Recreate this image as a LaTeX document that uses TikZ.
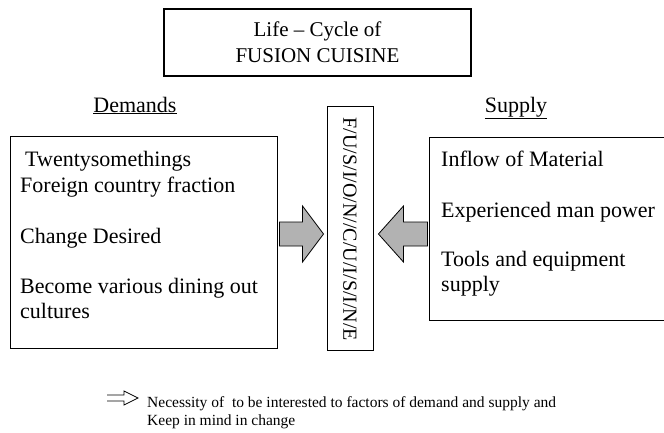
\documentclass[tikz,border=0pt]{standalone}
\usepackage{fontspec}
\setmainfont{Liberation Serif}
\usetikzlibrary{calc}
\begin{document}
\begin{tikzpicture}[x=1pt,y=-1pt,
  frame/.style={draw, line width=0.9pt, inner sep=0pt},
  bodytext/.style={anchor=base west, inner sep=0pt, font=\fontsize{22}{25}\selectfont},
  notetext/.style={anchor=base west, inner sep=0pt, font=\fontsize{15.5}{18}\selectfont},
  blockarrow/.style={draw, line width=0.8pt, fill=black!30, line join=miter},
]
\useasboundingbox (0,0) rectangle (664,432);
\clip (0,0) rectangle (664,432);
% title
\node[frame, line width=1.2pt, minimum width=307pt, minimum height=67pt] (title) at (317.5,42.5) {};
\node[font=\fontsize{21}{26}\selectfont, align=center, inner sep=0pt] (ttext) at (title.center) {Life – Cycle of\\FUSION CUISINE};
% headings
\node[font=\fontsize{22}{25}\selectfont, anchor=base, inner sep=0pt] (dem) at (135,112) {\underline{Demands}};
\node[font=\fontsize{22}{25}\selectfont, anchor=base, inner sep=0pt] (sup) at (516,112) {\underline{Supply}};
% boxes
\node[frame, minimum width=267pt, minimum height=212pt] (lbox) at (143.5,242) {};
\node[frame, minimum width=251pt, minimum height=183pt] (rbox) at (554.5,228.5) {};
\node[frame, minimum width=46pt, minimum height=244pt] (cbox) at (350,228) {};
\node[rotate=-90, anchor=west, inner sep=0pt, font=\fontsize{20}{20}\selectfont] (ctext) at ($(cbox.north)+(0,12)$) {F/U/S/I/O/N//C/U/I/S/I/N/E};
% left text
\node[bodytext] (l1) at (25,166) {Twentysomethings};
\node[bodytext] (l2) at (20,192) {Foreign country fraction};
\node[bodytext] (l3) at (20,243) {Change Desired};
\node[bodytext] (l4) at (20,293) {Become various dining out};
\node[bodytext] (l5) at (20,318) {cultures};
% right text
\node[bodytext] (r1) at (441,166) {Inflow of Material};
\node[bodytext] (r2) at (441,217) {Experienced man power};
\node[bodytext] (r3) at (441,266) {Tools and equipment};
\node[bodytext] (r4) at (441,291) {supply};
% block arrows
\path (lbox.east |- 0,234) coordinate (laS) (cbox.west |- 0,234) coordinate (laE);
\draw[blockarrow] ($(laS)+(2,-12)$) -- ($(laE)+(-24,-12)$) -- ($(laE)+(-24,-28)$) -- ($(laE)+(-3,0)$) -- ($(laE)+(-24,28)$) -- ($(laE)+(-24,12)$) -- ($(laS)+(2,12)$) -- cycle;
\path (rbox.west |- 0,234) coordinate (raS) (cbox.east |- 0,234) coordinate (raE);
\draw[blockarrow] ($(raS)+(-1,-12)$) -- ($(raE)+(30,-12)$) -- ($(raE)+(30,-28)$) -- ($(raE)+(5,0)$) -- ($(raE)+(30,28)$) -- ($(raE)+(30,12)$) -- ($(raS)+(-1,12)$) -- cycle;
% note
\coordinate (na) at (107,398);
\draw[line width=0.7pt, line join=miter] ($(na)+(0,-3)$) -- ($(na)+(17,-3)$) -- ($(na)+(17,-7)$) -- ($(na)+(31,0)$) -- ($(na)+(17,7)$) -- ($(na)+(17,3)$) -- ($(na)+(0,3)$);
\node[notetext] (n1) at (147,407) {Necessity of\ \ to be interested to factors of demand and supply and};
\node[notetext] (n2) at (147,425) {Keep in mind in change};
\end{tikzpicture}
\end{document}
